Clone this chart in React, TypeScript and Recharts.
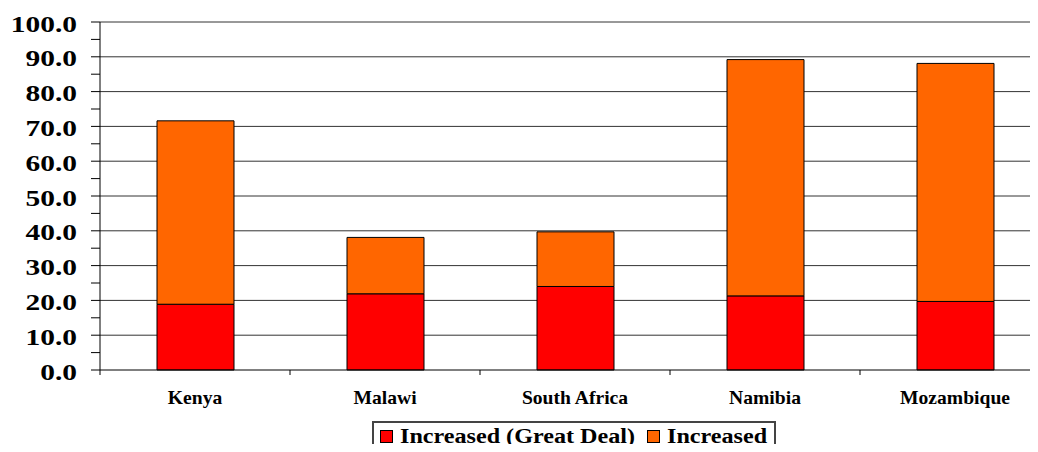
import React from "react";
import { BarChart, Bar, XAxis, YAxis, CartesianGrid, Legend } from "recharts";

const categories = ["Kenya", "Malawi", "South Africa", "Namibia", "Mozambique"];
const greatDeal = [18.9, 21.9, 24.0, 21.3, 19.7];
const increased = [52.7, 16.2, 15.7, 67.9, 68.4];
const yTicks = [0, 5, 10, 15, 20, 25, 30, 35, 40, 45, 50, 55, 60, 65, 70, 75, 80, 85, 90, 95, 100];
const gridValues = [10, 20, 30, 40, 50, 60, 70, 80, 90, 100];
const seriesNames = ["Increased (Great Deal)", "Increased"];
const colors = ["#FF0000", "#FF6600"];

const data = categories.map((name, i) => ({
  name,
  greatDeal: greatDeal[i],
  increased: increased[i],
}));

const FONT = "'Liberation Serif', 'Times New Roman', serif";

const YTick = (props: any) => {
  const { x, y, payload } = props;
  if (payload.value % 10 !== 0) return null;
  return (
    <text
      transform={`translate(${x - 14},${y + 9.5}) scale(1.28,1)`}
      textAnchor="end"
      fontFamily={FONT}
      fontWeight="bold"
      fontSize={23}
      fill="#000"
    >
      {Number(payload.value).toFixed(1)}
    </text>
  );
};

const XTick = (props: any) => {
  const { x, y, payload, index, visibleTicksCount } = props;
  const off = payload && typeof payload.offset === "number" ? payload.offset : 0;
  const isLast = index === (visibleTicksCount ?? categories.length) - 1;
  return (
    <g>
      {off > 0 && <line x1={x - off} x2={x - off} y1={y} y2={y + 5} stroke="#000" />}
      {off > 0 && isLast && <line x1={x + off} x2={x + off} y1={y} y2={y + 5} stroke="#000" />}
      <text
        transform={`translate(${x},${y + 34}) scale(1.09,1)`}
        textAnchor="middle"
        fontFamily={FONT}
        fontWeight="bold"
        fontSize={18}
        fill="#000"
      >
        {payload.value}
      </text>
    </g>
  );
};

const LegendContent = () => (
  <svg width={404} height={40} style={{ display: "block", overflow: "visible" }}>
    <rect x={1} y={1} width={402} height={36} fill="#fff" stroke="#444" strokeWidth={2} />
    <rect x={8.5} y={9.5} width={12} height={12} fill={colors[0]} stroke="#000" />
    <text
      transform="translate(28,22) scale(1.15,1)"
      fontFamily={FONT}
      fontWeight="bold"
      fontSize={21}
      fill="#000"
    >
      {seriesNames[0]}
    </text>
    <rect x={275.5} y={9.5} width={12} height={12} fill={colors[1]} stroke="#000" />
    <text
      transform="translate(295,22) scale(1.15,1)"
      fontFamily={FONT}
      fontWeight="bold"
      fontSize={21}
      fill="#000"
    >
      {seriesNames[1]}
    </text>
  </svg>
);

export default function App() {
  return (
    <div style={{ width: 1030, height: 444, overflow: "hidden", marginBottom: -8, position: "relative" }}>
      <BarChart
        width={1060}
        height={444}
        data={data}
        margin={{ top: 14, right: 18, left: 0, bottom: 42 }}
      >
        <CartesianGrid
          vertical={false}
          horizontalValues={gridValues}
          stroke="#333"
          strokeWidth={1}
        />
        <XAxis
          dataKey="name"
          height={40}
          tickLine={false}
          tickSize={0}
          tickMargin={0}
          axisLine={{ stroke: "#000" }}
          tick={<XTick />}
          interval={0}
        />
        <YAxis
          width={92}
          domain={[0, 100]}
          ticks={yTicks}
          interval={0}
          tickSize={9}
          tickMargin={0}
          tickLine={{ stroke: "#000" }}
          axisLine={{ stroke: "#000" }}
          tick={<YTick />}
        />
        <Legend
          layout="horizontal"
          verticalAlign="middle"
          align="center"
          wrapperStyle={{ left: 364, top: 413, width: 404, height: 40 }}
          content={<LegendContent />}
        />
        <Bar
          dataKey="greatDeal"
          name={seriesNames[0]}
          stackId="a"
          fill={colors[0]}
          stroke="#000"
          strokeWidth={1}
          barSize={77}
          isAnimationActive={false}
        />
        <Bar
          dataKey="increased"
          name={seriesNames[1]}
          stackId="a"
          fill={colors[1]}
          stroke="#000"
          strokeWidth={1}
          barSize={77}
          isAnimationActive={false}
        />
      </BarChart>
    </div>
  );
}
